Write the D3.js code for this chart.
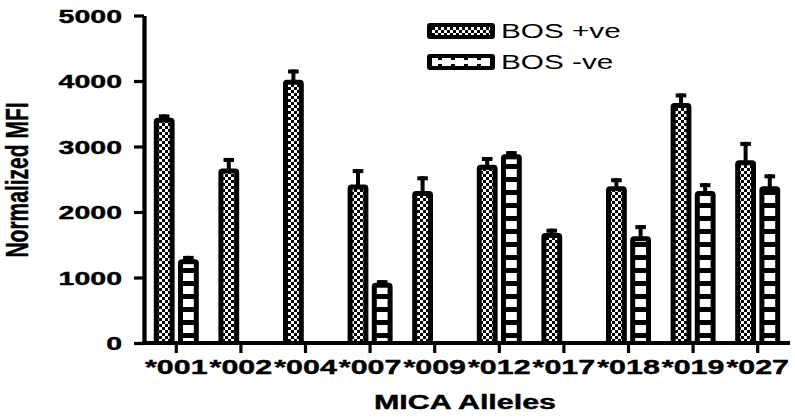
<!DOCTYPE html>
<html><head><meta charset="utf-8">
<script src="https://cdn.jsdelivr.net/npm/d3@7"></script>
<style>body{margin:0;background:#fff} svg{display:block}</style>
</head><body>
<svg id="chart" width="795" height="418"></svg>
<script>
const categories = ["*001","*002","*004","*007","*009","*012","*017","*018","*019","*027"];
const seriesNames = ["BOS +ve","BOS -ve"];
const posValues = [3440, 2665, 4020, 2420, 2320, 2720, 1680, 2395, 3665, 2790];
const posErrors = [50, 160, 155, 235, 225, 120, 65, 120, 145, 280];
const negValues = [1280, null, null, 920, null, 2880, null, 1630, 2320, 2395];
const negErrors = [50, null, null, 40, null, 50, null, 170, 120, 180];
const yTicks = [0, 1000, 2000, 3000, 4000, 5000];
const yTitle = "Normalized MFI";
const xTitle = "MICA Alleles";

const FONT = "'Liberation Sans', Arial, sans-serif";
const SX = 1.5; // horizontal stretch of the original picture
const svg = d3.select("#chart");

const defs = svg.append("defs");
const chk = defs.append("pattern").attr("id","checker").attr("patternUnits","userSpaceOnUse")
  .attr("width",6).attr("height",6);
chk.append("rect").attr("width",6).attr("height",6).attr("fill","#000");
chk.append("rect").attr("x",0).attr("y",0).attr("width",3).attr("height",3).attr("fill","#fff");
chk.append("rect").attr("x",3).attr("y",3).attr("width",3).attr("height",3).attr("fill","#fff");
const lad = defs.append("pattern").attr("id","ladder").attr("patternUnits","userSpaceOnUse")
  .attr("width",10).attr("height",13);
lad.append("rect").attr("width",10).attr("height",13).attr("fill","#000");
lad.append("rect").attr("y",0).attr("width",10).attr("height",8).attr("fill","#fff");
const ladH = defs.append("pattern").attr("id","ladderH").attr("patternUnits","userSpaceOnUse")
  .attr("width",13).attr("height",10);
ladH.append("rect").attr("width",13).attr("height",10).attr("fill","#fff");
ladH.append("rect").attr("x",9).attr("y",4).attr("width",4).attr("height",6).attr("fill","#000");

const mLeft = 144, mRight = 790, mBottom = 343, mTop = 15.5;
const x = d3.scaleBand().domain(categories).range([mLeft, mRight]).paddingInner(0).paddingOuter(0);
const x1 = d3.scaleBand().domain(seriesNames).range([-22.5, 22.5]).paddingInner(0.14);
const y = d3.scaleLinear().domain([0, 5000]).range([mBottom, mTop]);

const data = [];
categories.forEach((c, i) => {
  if (posValues[i] != null) data.push({c, s: seriesNames[0], v: posValues[i], e: posErrors[i], pat: "checker"});
  if (negValues[i] != null) data.push({c, s: seriesNames[1], v: negValues[i], e: negErrors[i], pat: "ladder"});
});

function topRounded(x0, y0, w, h, r) {
  return `M${x0},${y0+h}V${y0+r}Q${x0},${y0} ${x0+r},${y0}H${x0+w-r}Q${x0+w},${y0} ${x0+w},${y0+r}V${y0+h}Z`;
}

const bars = svg.append("g");
data.forEach(d => {
  const bx = x(d.c) + x.bandwidth()/2 + x1(d.s);
  const bw = x1.bandwidth();
  const cx = bx + bw/2;
  const yt = y(d.v), ye = y(d.v + d.e);
  bars.append("rect").attr("x", cx-2).attr("y", ye).attr("width", 4).attr("height", yt - ye + 4).attr("fill","#000");
  bars.append("rect").attr("x", cx-5.3).attr("y", ye).attr("width", 10.6).attr("height", 4).attr("fill","#000");
  bars.append("path").attr("d", topRounded(bx, yt, bw, mBottom - yt, 4)).attr("fill","#000");
  bars.append("rect").attr("x", bx+5).attr("y", yt+5).attr("width", bw-10).attr("height", Math.max(0, mBottom - yt - 5))
    .attr("fill", `url(#${d.pat})`);
});

const yAxis = svg.append("g").attr("transform", `translate(${mLeft},0)`)
  .call(d3.axisLeft(y).tickValues(yTicks).tickSize(10).tickSizeOuter(0).tickFormat(d3.format("d")));
yAxis.select(".domain").attr("stroke","#000").attr("stroke-width",4.3);
yAxis.selectAll(".tick line").attr("stroke","#000").attr("stroke-width",3.2);
yAxis.selectAll(".tick text").attr("x", -22/SX).attr("dy","0.36em").attr("transform",`scale(${SX},1)`)
  .attr("font-family", FONT).attr("font-weight","bold").attr("font-size", 19).attr("fill","#000")
  .attr("stroke","#000").attr("stroke-width",0.4);

const xAxis = svg.append("g").attr("transform", `translate(0,${mBottom})`)
  .call(d3.axisBottom(x).tickSize(10).tickSizeOuter(0));
xAxis.select(".domain").attr("stroke","#000").attr("stroke-width",4.2).attr("d", `M${mLeft-2},0H${mRight}`);
xAxis.selectAll(".tick line").attr("stroke","#000").attr("stroke-width",3.2);
xAxis.selectAll(".tick text").attr("x", 0).attr("y", 31).attr("dy", 0).attr("transform",`scale(1.45,1)`)
  .attr("font-family", FONT).attr("font-weight","bold").attr("font-size", 21).attr("fill","#000")
  .attr("text-anchor","middle").attr("stroke","#000").attr("stroke-width",0.4);

svg.append("text").attr("transform", `translate(465,409) scale(1.45,1)`).attr("text-anchor","middle")
  .attr("font-family", FONT).attr("font-weight","bold").attr("font-size", 21).attr("stroke","#000").attr("stroke-width",0.4).text(xTitle);
svg.append("text").attr("transform", `translate(28,180) scale(1.45,1) rotate(-90)`).attr("text-anchor","middle")
  .attr("font-family", FONT).attr("font-weight","bold").attr("font-size", 21).attr("stroke","#000").attr("stroke-width",0.3).text(yTitle);

const legend = svg.append("g");
[{s: seriesNames[0], pat: "checker", y0: 23}, {s: seriesNames[1], pat: "ladderH", y0: 54}].forEach(l => {
  legend.append("rect").attr("x", 427).attr("y", l.y0).attr("width", 68).attr("height", 16).attr("rx", 3).attr("fill","#000");
  legend.append("rect").attr("x", 432).attr("y", l.y0+4).attr("width", 58).attr("height", 8).attr("fill", `url(#${l.pat})`);
  legend.append("text").attr("transform", `translate(501,${l.y0+15}) scale(1.45,1)`)
    .attr("font-family", FONT).attr("font-size", 20.5).attr("fill","#000").text(l.s);
});
</script>
</body></html>
